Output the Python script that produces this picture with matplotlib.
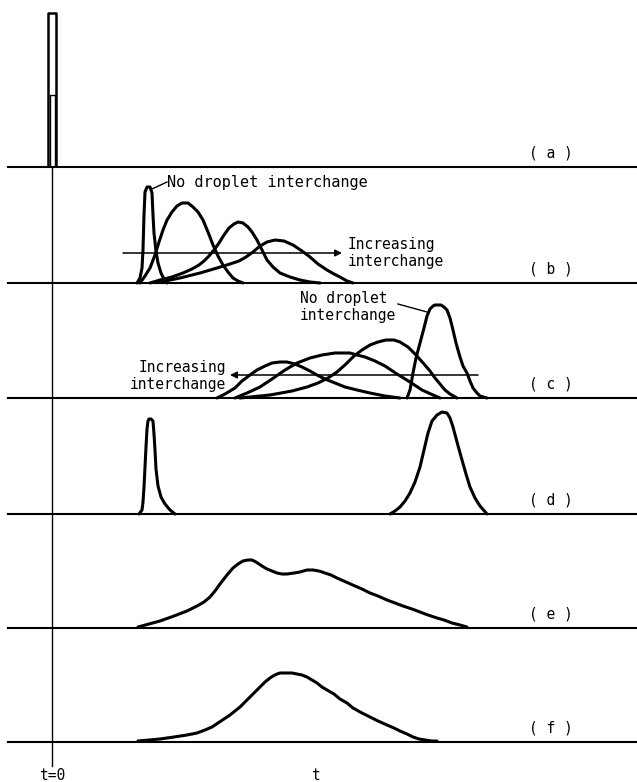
import numpy as np
import matplotlib.pyplot as plt

plt.rcParams['font.family'] = ['DejaVu Sans Mono']

# 各面板的数据：t 为时间（相对 t=0），h 为曲线高度
# (a) 输入脉冲
a_outer_t = [-4, -4, 4, 4]
a_outer_h = [0, 154, 154, 0]
a_inner_t = [-2.5, -2.5, 2.5, 2.5]
a_inner_h = [0, 72, 72, 0]

# (b)
b1_t = [85, 88, 90, 91, 92, 93, 95, 98, 100, 101, 102, 104, 106, 109, 112, 115]
b1_h = [0, 5, 15, 33, 68, 91, 96, 96, 90, 68, 50, 32, 20, 10, 4, 0]
b2_t = [88, 93, 98, 103, 107, 111, 115, 120, 125, 130, 136, 141, 146, 151, 156, 161, 166, 171, 176, 181, 186, 191]
b2_h = [0, 7, 15, 28, 41, 53, 63, 71, 77, 80, 80, 76, 71, 63, 51, 38, 27, 18, 11, 5, 2, 0]
b3_t = [98, 108, 120, 131, 140, 147, 152, 157, 162, 167, 172, 177, 182, 186, 191, 196, 200, 205, 210, 215, 221, 228, 238, 248, 258, 268]
b3_h = [0, 3, 6, 10, 14, 18, 22, 27, 33, 40, 48, 55, 59, 61, 60, 56, 51, 43, 33, 23, 16, 10, 6, 3, 1, 0]
b4_t = [108, 128, 148, 165, 178, 187, 194, 201, 208, 215, 223, 232, 241, 250, 258, 266, 275, 282, 288, 295, 301]
b4_h = [1, 5, 10, 15, 19, 22, 26, 31, 37, 41, 43, 42, 38, 32, 26, 19, 13, 9, 6, 2, 0]

# (c)
c1_t = [165, 173, 183, 190, 198, 205, 213, 220, 228, 235, 243, 250, 258, 265, 273, 283, 293, 305, 318, 333, 348]
c1_h = [0, 4, 10, 17, 23, 28, 32, 35, 36, 36, 34, 31, 27, 23, 19, 15, 11, 8, 5, 2, 0]
c2_t = [183, 195, 208, 220, 233, 245, 258, 270, 283, 290, 298, 305, 313, 323, 333, 345, 358, 370, 381, 388]
c2_h = [0, 5, 11, 19, 28, 35, 40, 43, 45, 45, 45, 43, 41, 37, 32, 24, 16, 8, 3, 0]
c3_t = [188, 218, 240, 255, 266, 276, 285, 294, 302, 310, 318, 326, 334, 342, 348, 356, 364, 372, 378, 383, 388, 393, 398, 405]
c3_h = [0, 3, 7, 11, 15, 20, 26, 34, 42, 48, 53, 56, 58, 58, 56, 51, 43, 34, 27, 20, 14, 8, 4, 0]
c4_t = [355, 358, 361, 364, 368, 372, 375, 378, 381, 383, 386, 389, 392, 395, 398, 401, 404, 408, 411, 415, 418, 421, 425, 428, 435]
c4_h = [0, 8, 25, 40, 55, 70, 82, 89, 92, 93, 93, 93, 91, 88, 80, 68, 55, 41, 32, 25, 17, 10, 5, 2, 0]

# (d)
d1_t = [87, 90, 91, 92, 93, 94, 95, 96, 97, 99, 101, 102, 103, 104, 106, 109, 113, 118, 123]
d1_h = [0, 4, 12, 27, 47, 67, 85, 93, 95, 95, 93, 80, 64, 45, 28, 17, 10, 4, 0]
d2_t = [338, 343, 348, 353, 358, 363, 368, 372, 376, 380, 385, 390, 395, 398, 401, 405, 410, 414, 418, 423, 428, 435]
d2_h = [0, 3, 7, 13, 21, 32, 47, 64, 81, 93, 99, 102, 101, 96, 87, 72, 54, 40, 27, 16, 8, 0]

# (e)
e_t = [86, 108, 122, 135, 145, 152, 158, 163, 168, 175, 181, 186, 191, 196, 200, 204, 210, 215, 220, 225, 230,
       235, 242, 248, 255, 261, 267, 273, 279, 285, 294, 303, 310, 318, 326, 335, 343, 351, 360, 368, 376, 385, 392, 400, 408, 415]
e_h = [1, 7, 12, 17, 22, 26, 31, 37, 44, 53, 60, 64, 67, 68, 68, 66, 62, 59, 57, 55, 54,
       54, 55, 56, 58, 58, 57, 55, 53, 50, 46, 42, 39, 35, 32, 28, 25, 22, 19, 16, 13, 10, 8, 5, 3, 1]

# (f)
f_t = [86, 108, 122, 135, 145, 153, 160, 166, 172, 178, 183, 188, 193, 198, 203, 208, 213, 218, 221, 225, 228, 232, 236,
       240, 245, 250, 255, 260, 265, 270, 275, 282, 288, 295, 301, 310, 318, 326, 335, 342, 348, 355, 361, 367, 373, 380, 385]
f_h = [1, 3, 5, 7, 9, 12, 15, 19, 23, 27, 31, 35, 40, 45, 50, 55, 60, 64, 66, 68, 69, 69, 69,
       69, 68, 67, 65, 62, 59, 55, 52, 48, 43, 39, 34, 29, 25, 21, 17, 14, 11, 8, 5, 3, 2, 1, 1]

labels = ['( a )', '( b )', '( c )', '( d )', '( e )', '( f )']

# 图像布局（像素）
W, H = 637, 782
baselines = [167, 283, 398, 514, 628, 742]
tops = [0, 167, 283, 398, 514, 628]
x_left = 8
t_min, t_max = -44, 585

fig = plt.figure(figsize=(W / 100, H / 100), dpi=100)
axes = []
for i in range(6):
    ax = fig.add_axes([x_left / W, 1 - baselines[i] / H, (W - x_left) / W, (baselines[i] - tops[i]) / H])
    ax.set_xlim(t_min, t_max)
    ax.set_ylim(0, baselines[i] - tops[i])
    ax.patch.set_alpha(0)
    for s in ['top', 'right', 'left']:
        ax.spines[s].set_visible(False)
    ax.spines['bottom'].set_linewidth(1.5)
    ax.set_xticks([])
    ax.set_yticks([])
    ax.text(499, 14, labels[i], ha='center', va='center', fontsize=10.5)
    if i > 0:
        ax.axvline(0, color='black', lw=1.0)
    axes.append(ax)

lw = 2.2
style = dict(color='black', lw=lw, solid_joinstyle='round', solid_capstyle='round', clip_on=False)

# (a)
axa = axes[0]
axa.plot(a_outer_t, a_outer_h, color='black', lw=1.8)
axa.plot(a_inner_t, a_inner_h, color='black', lw=1.0)

# (b)
axb = axes[1]
for tt, hh in [(b1_t, b1_h), (b2_t, b2_h), (b3_t, b3_h), (b4_t, b4_h)]:
    axb.plot(tt, hh, **style)
axb.annotate('', xy=(290, 30), xytext=(71, 30),
             arrowprops=dict(arrowstyle='-|>', lw=1.1, color='black', mutation_scale=10, shrinkA=0, shrinkB=0))
axb.text(296, 30, 'Increasing\ninterchange', ha='left', va='center', fontsize=10.5, linespacing=1.15)
axb.plot([100, 115], [94, 101], color='black', lw=1.0)
axb.text(115, 101, 'No droplet interchange', ha='left', va='center', fontsize=11)

# (c)
axc = axes[2]
for tt, hh in [(c1_t, c1_h), (c2_t, c2_h), (c3_t, c3_h), (c4_t, c4_h)]:
    axc.plot(tt, hh, **style)
axc.annotate('', xy=(178, 23), xytext=(426, 23),
             arrowprops=dict(arrowstyle='-|>', lw=1.1, color='black', mutation_scale=10, shrinkA=0, shrinkB=0))
axc.text(174, 22, 'Increasing\ninterchange', ha='right', va='center', fontsize=10.5, linespacing=1.15)
axc.plot([346, 375], [94, 86], color='black', lw=1.0)
axc.text(248, 91, 'No droplet\ninterchange', ha='left', va='center', fontsize=10.5, linespacing=1.15)

# (d)
axd = axes[3]
axd.plot(d1_t, d1_h, **style)
axd.plot(d2_t, d2_h, **style)

# (e)
axes[4].plot(e_t, e_h, **style)

# (f)
axf = axes[5]
axf.plot(f_t, f_h, **style)
axf.plot([0, 0], [0, -24], color='black', lw=1.0, clip_on=False)
axf.text(0, -33, 't=0', ha='center', va='center', fontsize=10.5)
axf.text(263, -33, 't', ha='center', va='center', fontsize=10.5)

plt.savefig('out.png', dpi=100)
